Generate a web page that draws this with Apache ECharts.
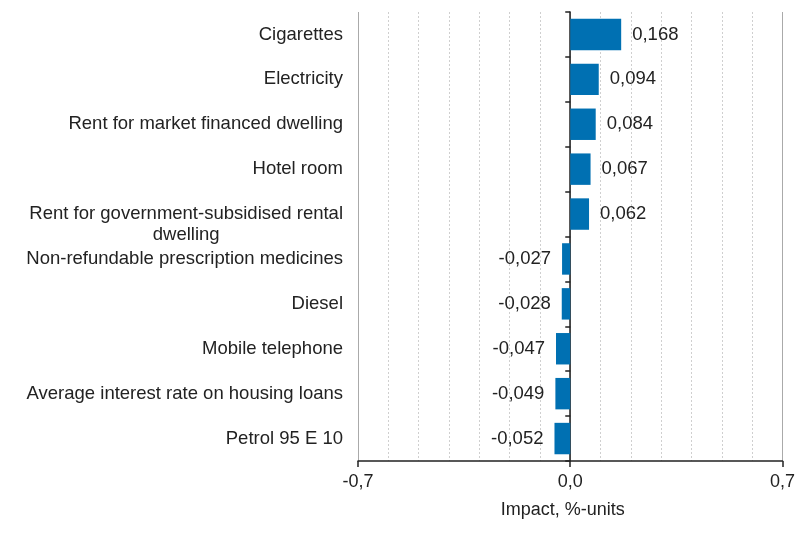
<!DOCTYPE html>
<html><head><meta charset="utf-8">
<script src="https://cdn.jsdelivr.net/npm/echarts@6/dist/echarts.min.js"></script>
<style>html,body{margin:0;padding:0;background:#fff}#c{width:798px;height:552px}</style>
</head><body><div id="c"></div>
<script>
const categories = ["Cigarettes","Electricity","Rent for market financed dwelling","Hotel room","Rent for government-subsidised rental\ndwelling","Non-refundable prescription medicines","Diesel","Mobile telephone","Average interest rate on housing loans","Petrol 95 E 10"];
const values = [0.168,0.094,0.084,0.067,0.062,-0.027,-0.028,-0.047,-0.049,-0.052];
const xTicks = [-0.7, 0.0, 0.7];
const axisName = "Impact, %-units";

const fmt = v => v.toFixed(1).replace('.', ',');
const font = 'Liberation Sans, Arial, sans-serif';
const txt = '#222';
const chart = echarts.init(document.getElementById('c'));
chart.setOption({
  animation: false,
  grid: { left: 358, right: 15, top: 12, bottom: 91, containLabel: false },
  xAxis: {
    type: 'value', min: xTicks[0], max: xTicks[2], interval: xTicks[2],
    axisLine: { show: true, onZero: false, lineStyle: { color: '#222', width: 1.5 } },
    axisTick: { show: true, length: 6, lineStyle: { color: '#222', width: 1.5 } },
    axisLabel: { formatter: v => fmt(v), color: txt, fontSize: 18, fontFamily: font, margin: 12 },
    splitLine: { show: true, lineStyle: { color: '#aaa', width: 1 } },
    minorTick: { show: false, splitNumber: 7 },
    minorSplitLine: { show: true, lineStyle: { color: '#cfcfcf', type: [2, 2], width: 1 } },
    name: axisName, nameLocation: 'middle', nameGap: 40,
    nameTextStyle: { color: txt, fontSize: 18, fontFamily: font, padding: [0, 15, 0, 0] }
  },
  yAxis: [{
    type: 'category', inverse: true,
    data: categories.map(c => c.indexOf('\n') >= 0 ? { value: c, textStyle: { padding: [21, 0, 0, 0] } } : c),
    axisLine: { show: false, onZero: false }, axisTick: { show: false },
    axisLabel: {
      margin: 15, align: 'right',
      formatter: v => v.split('\n').map(s => '{c|' + s + '}').join('\n'),
      rich: { c: { color: txt, fontSize: 18.5, fontFamily: font, lineHeight: 21, align: 'center' } }
    },
    splitLine: { show: false }
  }, {
    type: 'category', data: categories, inverse: true, position: 'left',
    axisLine: { show: true, onZero: true, lineStyle: { color: '#222', width: 1.5 } },
    axisTick: { show: true, length: 5, lineStyle: { color: '#222', width: 1.5 } },
    axisLabel: { show: false }, splitLine: { show: false }
  }],
  series: [{
    type: 'bar', yAxisIndex: 0, barWidth: '70%',
    data: values.map(v => ({ value: v, label: { position: v < 0 ? 'left' : 'right' } })),
    itemStyle: { color: '#0070b2' },
    label: {
      show: true, distance: 11, color: txt, fontSize: 18.5, fontFamily: font,
      formatter: p => p.value.toFixed(3).replace('.', ',')
    }
  }]
});
</script></body></html>
